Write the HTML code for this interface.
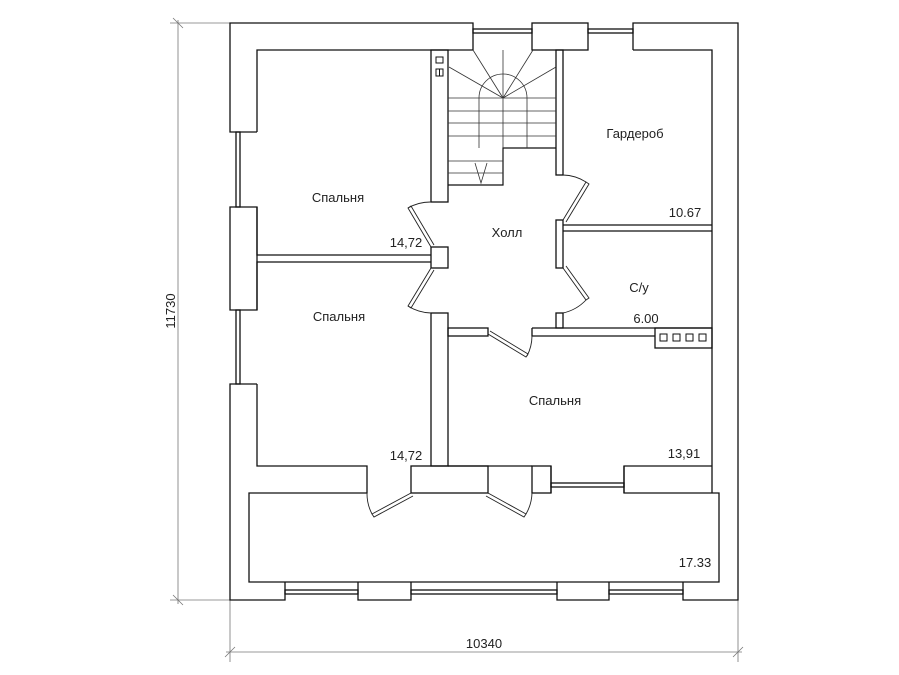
<!DOCTYPE html>
<html><head><meta charset="utf-8"><style>
html,body{margin:0;padding:0;background:#fff;}
svg{display:block}
text{font-family:"Liberation Sans",sans-serif;font-size:13px;fill:#222}
</style></head><body>
<svg width="899" height="675" viewBox="0 0 899 675" xmlns="http://www.w3.org/2000/svg">
<rect width="899" height="675" fill="#fff"/>
<!-- dimension lines -->
<g stroke="#777" stroke-width="0.8" fill="none">
<line x1="170" y1="23" x2="230" y2="23"/>
<line x1="170" y1="600" x2="230" y2="600"/>
<line x1="178" y1="20" x2="178" y2="604"/>
<line x1="173" y1="18" x2="183" y2="28"/>
<line x1="173" y1="595" x2="183" y2="605"/>
<line x1="230" y1="600" x2="230" y2="662"/>
<line x1="738" y1="600" x2="738" y2="662"/>
<line x1="226" y1="652" x2="742" y2="652"/>
<line x1="225" y1="657" x2="235" y2="647"/>
<line x1="733" y1="657" x2="743" y2="647"/>
</g>
<text x="484" y="648" text-anchor="middle">10340</text>
<text transform="translate(175,311) rotate(-90)" text-anchor="middle">11730</text>

<g stroke="#111" stroke-width="1.3" fill="none">
<!-- outer boundary -->
<path d="M473,50 V23 H230 V132 H257"/>
<path d="M230,207 H257 V310 H230 Z" fill="#fff"/>
<path d="M257,384 H230 V600 H285 V582"/>
<path d="M358,582 V600 H411 V582"/>
<path d="M557,582 V600 H609 V582"/>
<path d="M683,582 V600 H738 V23 H633 V50"/>
<rect x="532" y="23" width="56" height="27"/>
<!-- windows -->
<rect x="473" y="29" width="59" height="4"/>
<rect x="588" y="29" width="45" height="4"/>
<rect x="236" y="132" width="4" height="75"/>
<rect x="236" y="310" width="4" height="74"/>
<rect x="285" y="590" width="73" height="4"/>
<rect x="411" y="590" width="146" height="4"/>
<rect x="609" y="590" width="74" height="4"/>
<rect x="551" y="483" width="73" height="4"/>
<!-- inner outline top -->
<path d="M257,132 V50 H473"/>
<path d="M633,50 H712 V493"/>
<path d="M257,207 V255 H431"/>
<path d="M257,310 V262 H431"/>
<path d="M257,384 V466 H367 V493 H249 V582 H719 V493 H624 V466 H712"/>
<!-- partitions -->
<rect x="431" y="50" width="17" height="152"/>
<rect x="431" y="247" width="17" height="21"/>
<rect x="431" y="313" width="17" height="153"/>
<rect x="556" y="50" width="7" height="125"/>
<rect x="556" y="220" width="7" height="48"/>
<rect x="556" y="313" width="7" height="15"/>
<path d="M563,225 H712 M563,231 H712"/>
<rect x="448" y="328" width="40" height="8"/>
<path d="M532,328 H712 M532,328 V336 H655"/>
<rect x="655" y="328" width="57" height="20"/>
<rect x="411" y="466" width="77" height="27"/>
<rect x="532" y="466" width="19" height="27"/>
<path d="M448,466 H532 M551,466 V493 M624,466 V493"/>
</g>
<!-- fixtures -->
<g stroke="#111" stroke-width="1" fill="none">
<rect x="436" y="57" width="7" height="6"/>
<rect x="436" y="69" width="7" height="7"/>
<line x1="439.5" y1="69" x2="439.5" y2="76"/>
<rect x="660" y="334" width="7" height="7"/>
<rect x="673" y="334" width="7" height="7"/>
<rect x="686" y="334" width="7" height="7"/>
<rect x="699" y="334" width="7" height="7"/>
</g>
<!-- stairs -->
<g stroke="#333" stroke-width="0.8" fill="none">
<path d="M448,185 H503 V148 H556" stroke="#111" stroke-width="1.2"/>
<line x1="503" y1="50" x2="503" y2="148"/>
<path d="M479,148 V98 A24,24 0 0 1 527,98 V148"/>
<line x1="503" y1="98" x2="449" y2="67"/>
<line x1="503" y1="98" x2="473" y2="50"/>
<line x1="503" y1="98" x2="533" y2="50"/>
<line x1="503" y1="98" x2="556" y2="67"/>
<line x1="448" y1="98" x2="556" y2="98"/>
<line x1="448" y1="111" x2="556" y2="111"/>
<line x1="448" y1="123" x2="556" y2="123"/>
<line x1="448" y1="136" x2="556" y2="136"/>
<line x1="448" y1="161" x2="503" y2="161"/>
<line x1="448" y1="173" x2="503" y2="173"/>
<path d="M475,163 L481,183 L487,163"/>
</g>
<!-- doors -->
<g stroke="#222" stroke-width="0.9" fill="none">
<path d="M431,247 L408,208 L411,206 L434,245"/>
<path d="M408,208 A45,45 0 0 1 431,202"/>
<path d="M431,268 L408,306 L411,308 L434,270"/>
<path d="M408,306 A45,45 0 0 0 431,313"/>
<path d="M563,220 L586,182 L589,184 L566,222"/>
<path d="M586,182 A45,45 0 0 0 563,175"/>
<path d="M563,268 L586,300 L589,298 L566,266"/>
<path d="M586,300 A45,45 0 0 1 563,313"/>
<path d="M488,334 L526,357 L528,354 L490,331"/>
<path d="M527,356 A44,44 0 0 0 532,336"/>
<path d="M411,493 L372,514 L374,517 L413,496"/>
<path d="M372,514 A44,44 0 0 1 367,493"/>
<path d="M488,493 L526,514 L524,517 L486,496"/>
<path d="M526,514 A44,44 0 0 0 532,493"/>
</g>
<!-- labels -->
<text x="338" y="202" text-anchor="middle">Спальня</text>
<text x="406" y="247" text-anchor="middle">14,72</text>
<text x="507" y="237" text-anchor="middle">Холл</text>
<text x="635" y="138" text-anchor="middle">Гардероб</text>
<text x="685" y="217" text-anchor="middle">10.67</text>
<text x="639" y="292" text-anchor="middle">С/у</text>
<text x="646" y="323" text-anchor="middle">6.00</text>
<text x="339" y="321" text-anchor="middle">Спальня</text>
<text x="555" y="405" text-anchor="middle">Спальня</text>
<text x="406" y="460" text-anchor="middle">14,72</text>
<text x="684" y="458" text-anchor="middle">13,91</text>
<text x="695" y="567" text-anchor="middle">17.33</text>
</svg>
</body></html>
